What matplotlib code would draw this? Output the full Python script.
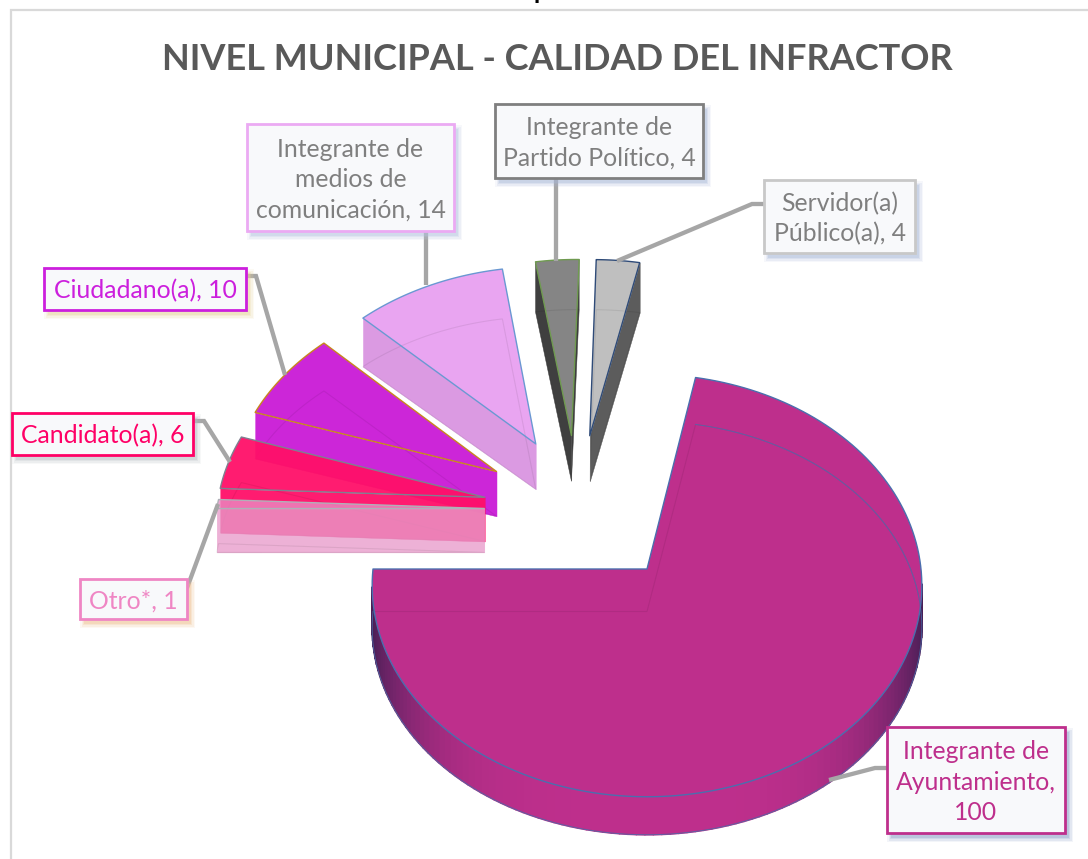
"""
Exploded 3D pie: nivel municipal, calidad del infractor.
Canvas is in pixels so the perspective projection can be tuned against the picture.
"""
import numpy as np
import matplotlib
matplotlib.use('Agg')
import matplotlib.pyplot as plt
import matplotlib.patches as patches
from matplotlib.collections import PolyCollection
from matplotlib.colors import to_rgb

# ── Data ───────────────────────────────────────────────────────────────────
categories = ["Integrante de Ayuntamiento", "Otro*", "Candidato(a)", "Ciudadano(a)",
              "Integrante de medios de comunicación", "Integrante de Partido Político",
              "Servidor(a) Público(a)"]
values = [100, 1, 6, 10, 14, 4, 4]
title = "NIVEL MUNICIPAL - CALIDAD DEL INFRACTOR"

# ── Styles (same order as categories) ──────────────────────────────────────
TOP   = ["#BE2F8C", "#EB8CC4", "#FF0F68", "#CC26D8", "#E9A5F1", "#858585", "#BFBFBF"]
SIDE  = ["#BE2F8C", "#E89CCB", "#FF0F68", "#CC26D8", "#DB9AE2", "#3F3F3F", "#5C5C5C"]
EDGE  = ["#4A6FAE", "#B0B0B8", "#7F8090", "#C8861E", "#6A98D2", "#6F9A50", "#2F4B78"]
ALPHA = [1.0, 0.78, 0.95, 1.0, 1.0, 1.0, 1.0]
NUDGE = [(0, 0), (8, 3), (6, 4), (3, 4), (1, 4), (-3, 4), (-3, 4)]   # px, slice placement fix
DRAW_ORDER = [4, 5, 6, 3, 2, 1, 0]   # back to front

GREY_TXT = "#7F7F7F"
LEADER   = "#A6A6A6"
BORDER   = "#D9D9D9"

# ── Projection constants, fitted to the main slice ─────────────────────────
CX, CY = 647, 569     # apex of main slice in pixels
RX, RY = 274, 210
PERSP  = 0.078
EXPLODE = 0.39
ROTATION = 11.0       # first slice angle, clockwise from north


def project(x, y, drop=False):
    """Pie plane (x right, y away, radius 1) to pixels. drop=True gives the bottom face."""
    x, y = np.asarray(x, float), np.asarray(y, float)
    s = 1 / (1 + PERSP * y)
    px = CX + RX * x * s
    py = CY - RY * y * s
    if drop:
        py = py + 42.5 + 4.5 * y
    return px, py


fig = plt.figure(figsize=(10.88, 8.59), dpi=100)
fig.patch.set_facecolor("white")
ax = fig.add_axes([0, 0, 1, 1])
ax.set_xlim(0, 1088)
ax.set_ylim(859, 0)
ax.axis('off')

# Chart frame, cut off by the screenshot on the right and at the bottom
ax.plot([11, 11, 1088], [859, 10, 10], color=BORDER, lw=1.6, solid_joinstyle='miter')
ax.text(541, -1, "p", ha='center', va='baseline', fontsize=18, family='Lato',
        fontweight='bold', color='black')

ax.text(557, 59, title, ha='center', va='center', fontsize=26, family='Lato',
        fontweight='bold', color="#595959")

# ── Slices ─────────────────────────────────────────────────────────────────
total = sum(values)
angles = np.array(values) / total * 360
starts = ROTATION + np.concatenate([[0], np.cumsum(angles)[:-1]])
ends = starts + angles
mids = np.radians((starts + ends) / 2)

# true pie centre: the main slice apex sits at the origin after its own explosion
ox, oy = -EXPLODE * np.sin(mids[0]), -EXPLODE * np.cos(mids[0])


def shade(color, t):
    base = np.array(to_rgb(color))
    dark = np.array(to_rgb("#2A1A48"))
    return tuple(base * (1 - t) + dark * t)


for i in DRAW_ORDER:
    ax0 = ox + EXPLODE * np.sin(mids[i])
    ay0 = oy + EXPLODE * np.cos(mids[i])
    th = np.radians(np.linspace(starts[i], ends[i], 160))
    fx, fy = ax0 + np.sin(th), ay0 + np.cos(th)

    tx, ty = project(fx, fy)
    bx, by = project(fx, fy, drop=True)
    apx, apy = project(ax0, ay0)
    apbx, apby = project(ax0, ay0, drop=True)

    top_poly = np.column_stack([np.r_[apx, tx], np.r_[apy, ty]]) + NUDGE[i]
    bot_poly = np.column_stack([np.r_[apbx, bx], np.r_[apby, by]]) + NUDGE[i]
    n = len(top_poly)

    # side quads, only those facing the viewer
    quads, cols = [], []
    for a in range(n):
        b = (a + 1) % n
        q = np.array([top_poly[a], top_poly[b], bot_poly[b], bot_poly[a]])
        area = 0.5 * np.sum(q[:, 0] * np.roll(q[:, 1], -1) - np.roll(q[:, 0], -1) * q[:, 1])
        if area >= 0:
            continue
        if a == 0 or b == 0:
            cols.append(to_rgb(SIDE[i]))
        else:
            # rim gets darker towards the silhouette
            t = abs(np.sin(th[a - 1])) ** 4 * (0.8 if i == 0 else 0.1)
            cols.append(shade(SIDE[i], t))
        quads.append(q)
    if quads:
        # thick face-coloured edges hide the seams between the opaque rim strips
        ax.add_collection(PolyCollection(quads, facecolors=cols, edgecolors='face',
                                         linewidths=1.2 if i == 0 else 0.3,
                                         alpha=ALPHA[i], zorder=2))

    ax.add_patch(patches.Polygon(top_poly, closed=True, facecolor=TOP[i], edgecolor='none',
                                 alpha=ALPHA[i], zorder=2))
    # bottom outline seen through the slice
    ax.add_patch(patches.Polygon(bot_poly, closed=True, fill=False, edgecolor="#000000",
                                 linewidth=0.8, alpha=0.07, zorder=2))
    ax.add_patch(patches.Polygon(top_poly, closed=True, fill=False, edgecolor=EDGE[i],
                                 linewidth=1.0, zorder=2, joinstyle='round'))
    if i == 0:
        ax.plot(bx, by, color=EDGE[i], lw=0.7, alpha=0.8, zorder=2)

# ── Labels ─────────────────────────────────────────────────────────────────
labels = [
    ("Integrante de\nAyuntamiento,\n100", (887, 727, 1065, 833), "#BE2F8C", "#BE2F8C", "#8FA3C8",
     [(887, 768), (875, 768), (829, 780)]),
    ("Otro*, 1", (80, 579, 187, 619), "#EF86C4", "#EF86C4", "#F0C090",
     [(187, 588), (218, 504)]),
    ("Candidato(a), 6", (12, 413, 193, 455), "#FF0066", "#FF0066", "#B8BCC4",
     [(193, 421), (204, 421), (230, 462)]),
    ("Ciudadano(a), 10", (44, 268, 246, 310), "#CC1FDD", "#CC1FDD", "#E6D49A",
     [(246, 276), (256, 276), (285, 375)]),
    ("Integrante de\nmedios de\ncomunicación, 14", (247, 124, 454, 231), "#EBAAF3", GREY_TXT, "#B4C4E0",
     [(426, 231), (426, 285)]),
    ("Integrante de\nPartido Político, 4", (495, 104, 703, 178), "#7F7F7F", GREY_TXT, "#A8B8D8",
     [(556, 178), (556, 261)]),
    ("Servidor(a)\nPúblico(a), 4", (764, 180, 915, 253), "#C8C8C8", GREY_TXT, "#A8B8D8",
     [(764, 204), (752, 204), (617, 261)]),
]

for text, (x0, y0, x1, y1), edge, tcol, shadow, leader in labels:
    lx, ly = zip(*leader)
    ax.plot(lx, ly, color=LEADER, lw=3.1, solid_capstyle='butt', solid_joinstyle='miter', zorder=3)
    # soft shadow
    for grow, al in zip([8, 5, 2, 0], [0.10, 0.16, 0.22, 0.32]):
        ax.add_patch(patches.Rectangle((x0 + 4 - grow / 2, y0 + 5 - grow / 2),
                                       x1 - x0 + grow, y1 - y0 + grow,
                                       facecolor=shadow, edgecolor='none', alpha=al, zorder=4))
    ax.add_patch(patches.Rectangle((x0, y0), x1 - x0, y1 - y0, facecolor="#F8F9FB",
                                   edgecolor=edge, linewidth=2.0, zorder=5))
    ax.text((x0 + x1) / 2, (y0 + y1) / 2 + 2, text, ha='center', va='center', fontsize=17.8,
            family='Lato', color=tcol, linespacing=1.38, zorder=6)

plt.savefig("out.png", dpi=100, facecolor="white")
plt.close()
